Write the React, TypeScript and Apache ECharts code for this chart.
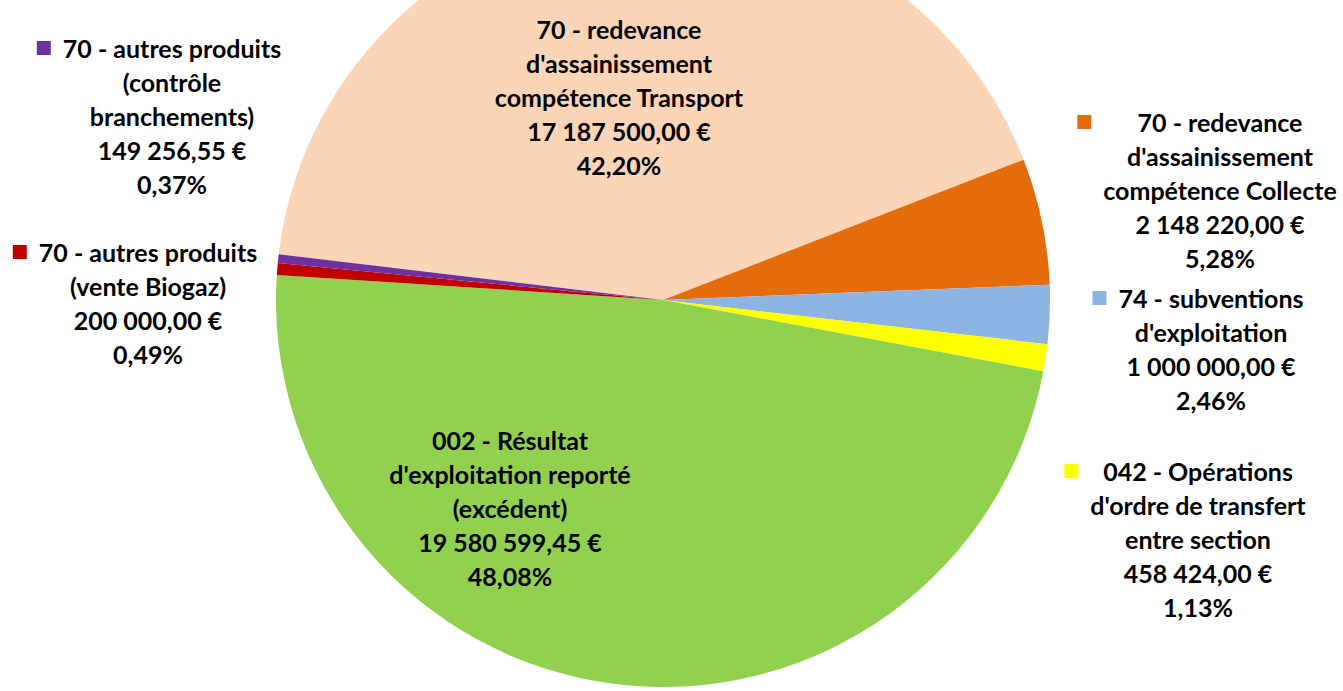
import React, { useEffect, useRef } from "react";
import * as echarts from "echarts";

// ---- Data ----
const categories: string[] = [
  "70 - redevance\nd'assainissement\ncompétence Transport",
  "70 - redevance\nd'assainissement\ncompétence Collecte",
  "74 - subventions\nd'exploitation",
  "042 - Opérations\nd'ordre de transfert\nentre section",
  "002 - Résultat\nd'exploitation reporté\n(excédent)",
  "70 - autres produits\n(vente Biogaz)",
  "70 - autres produits\n(contrôle\nbranchements)",
];
const values: number[] = [
  17187500.0, 2148220.0, 1000000.0, 458424.0, 19580599.45, 200000.0, 149256.55,
];
const colors: string[] = [
  "#FBD5B5", "#E46C0A", "#8EB4E3", "#FFFF00", "#92D050", "#C00000", "#7030A0",
];
// legend key shown beside label (outside labels)
const showKey: boolean[] = [false, true, true, true, false, true, true];
// centre of each label's text block (page px)
const labelCenters: number[][] = [
  [619, 97], [1220, 190], [1211, 349], [1198, 539], [510, 508], [148, 303], [172, 116],
];

const FONT = "Lato, 'Open Sans', sans-serif";
const KEY = 14;
const GAP = 12;

function fmtMoney(v: number): string {
  const [i, d] = v.toFixed(2).split(".");
  const int = i.replace(/\B(?=(\d{3})+(?!\d))/g, " ");
  return `${int},${d} €`;
}

export default function App() {
  const ref = useRef<HTMLDivElement>(null);
  useEffect(() => {
    if (!ref.current) return;
    const chart = echarts.init(ref.current, undefined, { renderer: "svg" });
    const total = values.reduce((a, b) => a + b, 0);
    const rich: Record<string, any> = {
      t: {
        fontFamily: FONT,
        fontWeight: "bold",
        fontSize: 25,
        lineHeight: 34,
        color: "#000",
        align: "center",
      },
      g: { width: GAP, height: KEY, align: "left" },
      p: { width: KEY + GAP, height: KEY, align: "left" },
    };
    colors.forEach((c, i) => {
      rich["sq" + i] = { width: KEY, height: KEY, backgroundColor: c, align: "left" };
    });
    const data = categories.map((name, i) => ({
      name,
      value: values[i],
      itemStyle: { color: colors[i] },
    }));
    chart.setOption({
      animation: false,
      series: [
        {
          type: "pie",
          center: [663, 300],
          radius: 387,
          startAngle: 173.2,
          clockwise: true,
          avoidLabelOverlap: false,
          itemStyle: { borderWidth: 0 },
          emphasis: { disabled: true },
          labelLine: { show: false },
          label: {
            show: true,
            position: "inside",
            align: "center",
            verticalAlign: "middle",
            lineHeight: 34,
            fontFamily: FONT,
            fontWeight: "bold",
            fontSize: 25,
            color: "#000",
            overflow: "none",
            rich,
            formatter: (p: any) => {
              const i = p.dataIndex;
              const pct = ((values[i] / total) * 100).toFixed(2).replace(".", ",") + "%";
              const lines = [...categories[i].split("\n"), fmtMoney(values[i]), pct];
              return lines
                .map((l, k) => {
                  if (!showKey[i]) return `{t|${l}}`;
                  return k === 0 ? `{sq${i}|}{g|}{t|${l}}` : `{p|}{t|${l}}`;
                })
                .join("\n");
            },
          },
          labelLayout: (p: any) => {
            const i = p.dataIndex;
            const [x, y] = labelCenters[i];
            return {
              x: showKey[i] ? x - (KEY + GAP) / 2 : x,
              y,
              align: "center",
              verticalAlign: "middle",
            };
          },
          data,
        },
      ],
    });
    return () => chart.dispose();
  }, []);
  return (
    <div
      ref={ref}
      style={{ position: "absolute", left: 0, top: 0, width: 1343, height: 691, background: "#fff" }}
    />
  );
}
